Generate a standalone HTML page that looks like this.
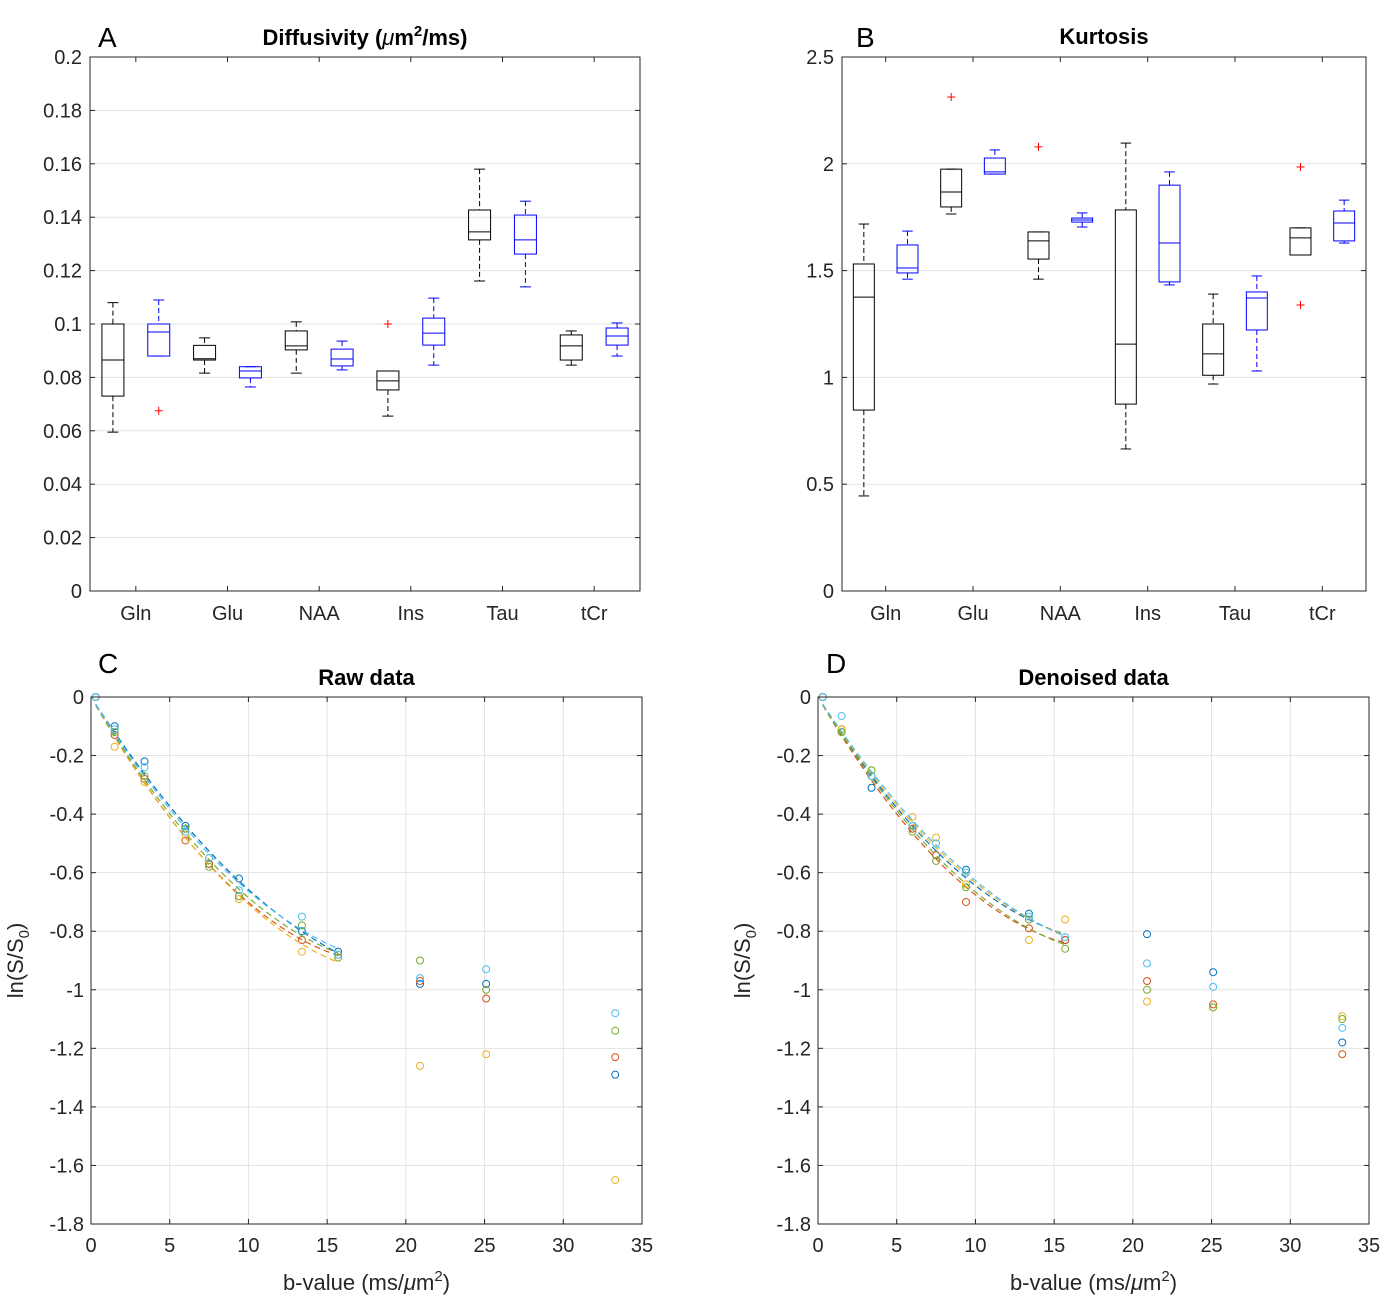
<!DOCTYPE html>
<html><head><meta charset="utf-8"><style>
html,body{margin:0;padding:0;background:#fff}
svg{font-family:"Liberation Sans",Arial,sans-serif;display:block}
</style></head><body>
<svg id="fig" width="1390" height="1295" viewBox="0 0 1390 1295" xmlns="http://www.w3.org/2000/svg"></svg>
<script>
const categories=["Gln","Glu","NAA","Ins","Tau","tCr"];
// boxplot stats: [lowWhisker, q1, median, q3, highWhisker]
const diffBlack=[[0.0595,0.073,0.0865,0.1,0.108],[0.0816,0.0865,0.087,0.092,0.0948],[0.0816,0.0903,0.0918,0.0974,0.1008],[0.0655,0.0753,0.0787,0.0824,0.0824],[0.1161,0.1315,0.1345,0.1427,0.158],[0.0846,0.0865,0.0918,0.0959,0.0974]];
const diffBlue=[[0.088,0.088,0.097,0.1,0.109],[0.0764,0.0798,0.0824,0.084,0.084],[0.0828,0.0843,0.0869,0.0906,0.0936],[0.0846,0.0921,0.0966,0.1022,0.1097],[0.1139,0.1262,0.1315,0.1408,0.146],[0.088,0.0921,0.0955,0.0985,0.1004]];
const diffOutBlack=[[3,0.1]];
const diffOutBlue=[[0,0.0675]];
const kurtBlack=[[0.445,0.847,1.376,1.531,1.718],[1.765,1.798,1.868,1.975,1.975],[1.46,1.554,1.639,1.681,1.681],[0.665,0.875,1.156,1.784,2.097],[0.969,1.01,1.11,1.25,1.39],[1.573,1.573,1.653,1.7,1.7]];
const kurtBlue=[[1.46,1.489,1.512,1.62,1.685],[1.952,1.952,1.962,2.027,2.065],[1.704,1.727,1.737,1.746,1.77],[1.433,1.447,1.629,1.9,1.962],[1.03,1.222,1.372,1.4,1.475],[1.629,1.639,1.723,1.779,1.83]];
const kurtOutBlack=[[1,2.313],[2,2.079],[5,1.985],[5,1.339]];
const kurtOutBlue=[];
const bValues=[0.3,1.5,3.4,6,7.5,9.4,13.4,15.7,20.9,25.1,33.3];
const seriesColors=["#0072BD","#D95319","#EDB120","#77AC30","#4DBEEE"];
const rawBlue=[0,-0.10,-0.22,-0.44,-0.57,-0.62,-0.80,-0.87,-0.98,-0.98,-1.29];
const rawRed=[0,-0.13,-0.28,-0.49,-0.57,-0.68,-0.83,-0.88,-0.97,-1.03,-1.23];
const rawYellow=[0,-0.17,-0.29,-0.47,-0.55,-0.69,-0.87,-0.89,-1.26,-1.22,-1.65];
const rawGreen=[0,-0.12,-0.27,-0.45,-0.58,-0.68,-0.78,-0.89,-0.90,-1.00,-1.14];
const rawCyan=[0,-0.11,-0.24,-0.46,-0.55,-0.66,-0.75,-0.88,-0.96,-0.93,-1.08];
const denBlue=[0,-0.12,-0.31,-0.44,-0.54,-0.59,-0.74,-0.83,-0.81,-0.94,-1.18];
const denRed=[0,-0.11,-0.27,-0.45,-0.54,-0.70,-0.79,-0.83,-0.97,-1.05,-1.22];
const denYellow=[0,-0.11,-0.25,-0.41,-0.48,-0.64,-0.83,-0.76,-1.04,-1.06,-1.09];
const denGreen=[0,-0.12,-0.25,-0.46,-0.56,-0.65,-0.76,-0.86,-1.00,-1.06,-1.10];
const denCyan=[0,-0.065,-0.27,-0.44,-0.50,-0.60,-0.75,-0.82,-0.91,-0.99,-1.13];

const NS="http://www.w3.org/2000/svg";
const svg=document.getElementById('fig');
function mk(tag,attrs,parent){const e=document.createElementNS(NS,tag);for(const k in attrs)e.setAttribute(k,attrs[k]);(parent||svg).appendChild(e);return e;}
function txt(x,y,s,size,anchor,weight,parent){const t=mk('text',{x:x,y:y,'font-size':size,'text-anchor':anchor||'middle','font-weight':weight||'normal',fill:'#262626'},parent);t.textContent=s;return t;}

function axesFrame(g,L,T,R,B,name){
  const r=mk('rect',{x:L,y:T,width:R-L,height:B-T,fill:'none',stroke:'#262626','stroke-width':1},g);
  
  
}

// ---------- Box panels ----------
function boxPanel(o){
  const g=mk('g',{});
  
  
  const {L,T,R,B,ymax}=o;
  const ys=v=>B-(v/ymax)*(B-T);
  const step=(R-L)/6;
  const cx=i=>L+step*(i+0.5);
  // grid + y ticks
  o.ticks.forEach((v,k)=>{
    const y=ys(v);
    if(v>0&&v<ymax){const gl=mk('line',{x1:L,x2:R,y1:y,y2:y,stroke:'#e3e3e3','stroke-width':1},g);}
    mk('line',{x1:L,x2:L+5,y1:y,y2:y,stroke:'#262626'},g);
    mk('line',{x1:R,x2:R-5,y1:y,y2:y,stroke:'#262626'},g);
    const t=txt(L-8,y+7,o.tickLabels[k],20,'end',null,g);
    
    
  });
  categories.forEach((c,i)=>{
    const x=cx(i);
    mk('line',{x1:x,x2:x,y1:B,y2:B-5,stroke:'#262626'},g);
    mk('line',{x1:x,x2:x,y1:T,y2:T+5,stroke:'#262626'},g);
    const t=txt(x,B+29,c,20,'middle',null,g);
    
    
  });
  const off=step*0.25, w=step*0.24;
  function drawBox(stats,x,col,nm){
    const bg=mk('g',{},g);
    
    
    const [lo,q1,md,q3,hi]=stats;
    mk('line',{x1:x,x2:x,y1:ys(hi),y2:ys(q3),stroke:col,'stroke-dasharray':'5,3'},bg);
    mk('line',{x1:x,x2:x,y1:ys(q1),y2:ys(lo),stroke:col,'stroke-dasharray':'5,3'},bg);
    mk('line',{x1:x-w/4,x2:x+w/4,y1:ys(hi),y2:ys(hi),stroke:col},bg);
    mk('line',{x1:x-w/4,x2:x+w/4,y1:ys(lo),y2:ys(lo),stroke:col},bg);
    mk('rect',{x:x-w/2,y:ys(q3),width:w,height:Math.max(ys(q1)-ys(q3),1),fill:'none',stroke:col},bg);
    mk('line',{x1:x-w/2,x2:x+w/2,y1:ys(md),y2:ys(md),stroke:col},bg);
  }
  o.black.forEach((s,i)=>drawBox(s,cx(i)-off,'#000','box-black-'+categories[i].toLowerCase()));
  o.blue.forEach((s,i)=>drawBox(s,cx(i)+off,'#0000ff','box-blue-'+categories[i].toLowerCase()));
  function outl(list,sign){list.forEach(([i,v])=>{const x=cx(i)+sign*off,y=ys(v);const p=mk('path',{d:`M${x-4} ${y}H${x+4}M${x} ${y-4}V${y+4}`,stroke:'#ff0000','stroke-width':1},g);});}
  outl(o.outBlack,-1);outl(o.outBlue,1);
  axesFrame(g,L,T,R,B,o.name);
  return g;
}

const gA=boxPanel({name:'panel-a-diffusivity',L:90,T:57,R:640,B:591,ymax:0.2,
  ticks:[0,0.02,0.04,0.06,0.08,0.1,0.12,0.14,0.16,0.18,0.2],
  tickLabels:["0","0.02","0.04","0.06","0.08","0.1","0.12","0.14","0.16","0.18","0.2"],
  black:diffBlack,blue:diffBlue,outBlack:diffOutBlack,outBlue:diffOutBlue});
const gB=boxPanel({name:'panel-b-kurtosis',L:842,T:57,R:1366,B:591,ymax:2.5,
  ticks:[0,0.5,1,1.5,2,2.5],tickLabels:["0","0.5","1","1.5","2","2.5"],
  black:kurtBlack,blue:kurtBlue,outBlack:kurtOutBlack,outBlue:kurtOutBlue});

// titles
let t;
t=mk('text',{x:365,y:45,'font-size':22,'font-weight':'bold','text-anchor':'middle',fill:'#000'});
t.innerHTML='Diffusivity (<tspan font-style="italic" font-weight="normal">μ</tspan>m<tspan dy="-9" font-size="15">2</tspan><tspan dy="9">/ms)</tspan>';

t=txt(1104,44,'Kurtosis',22,'middle','bold');t.setAttribute('fill','#000');

[['A',98,47],['B',856,47],['C',98,673],['D',826,673]].forEach(([s,x,y])=>{const e=txt(x,y,s,28,'start');e.setAttribute('fill','#000');});

// ---------- Scatter panels ----------
function fitK(b,y,nmax){
  // least squares y = a1*b + a2*b^2 over b<=nmax
  let s11=0,s12=0,s22=0,r1=0,r2=0;
  b.forEach((bv,i)=>{if(bv<=nmax){const x1=bv,x2=bv*bv;s11+=x1*x1;s12+=x1*x2;s22+=x2*x2;r1+=x1*y[i];r2+=x2*y[i];}});
  const det=s11*s22-s12*s12;
  return [(r1*s22-r2*s12)/det,(s11*r2-s12*r1)/det];
}
function scatterPanel(o){
  const g=mk('g',{});
  
  
  const {L,T,R,B}=o;
  const xs=v=>L+v/35*(R-L);
  const ys=v=>T+(-v)/1.8*(B-T);
  const xt=[0,5,10,15,20,25,30,35];
  const yt=[0,-0.2,-0.4,-0.6,-0.8,-1,-1.2,-1.4,-1.6,-1.8];
  xt.forEach(v=>{const x=xs(v);
    if(v>0&&v<35){const l=mk('line',{x1:x,x2:x,y1:T,y2:B,stroke:'#e3e3e3'},g);}
    mk('line',{x1:x,x2:x,y1:B,y2:B-5,stroke:'#262626'},g);mk('line',{x1:x,x2:x,y1:T,y2:T+5,stroke:'#262626'},g);
    const e=txt(x,B+28,String(v),20,'middle',null,g);});
  yt.forEach(v=>{const y=ys(v);
    if(v<0&&v>-1.8){const l=mk('line',{x1:L,x2:R,y1:y,y2:y,stroke:'#e3e3e3'},g);}
    mk('line',{x1:L,x2:L+5,y1:y,y2:y,stroke:'#262626'},g);mk('line',{x1:R,x2:R-5,y1:y,y2:y,stroke:'#262626'},g);
    const e=txt(L-7,y+7,String(v),20,'end',null,g);});
  o.series.forEach((ser,si)=>{
    const col=seriesColors[si];
    const [a1,a2]=fitK(bValues,ser,15.8);
    let d='';
    for(let k=0;k<=40;k++){const b=bValues[0]+(15.7-bValues[0])*k/40;const y=a1*b+a2*b*b;d+=(k?'L':'M')+xs(b).toFixed(1)+' '+ys(y).toFixed(1);}
    const p=mk('path',{d:d,fill:'none',stroke:col,'stroke-width':1.2,'stroke-dasharray':'6,4'},g);
    
    ser.forEach((v,i)=>{const c=mk('circle',{cx:xs(bValues[i]),cy:ys(v),r:3.5,fill:'none',stroke:col,'stroke-width':1},g);
      });
  });
  axesFrame(g,L,T,R,B,o.name);
  const cxm=(L+R)/2;
  let e=mk('text',{x:cxm,y:1290,'font-size':22,'text-anchor':'middle',fill:'#262626'},g);
  e.innerHTML='b-value (ms/<tspan font-style="italic">μ</tspan>m<tspan dy="-9" font-size="15">2</tspan><tspan dy="9">)</tspan>';
  
  e=mk('text',{x:0,y:0,'font-size':22,'text-anchor':'middle',fill:'#262626',transform:`translate(${L-68},${(T+B)/2}) rotate(-90)`},g);
  e.innerHTML='ln(S/S<tspan dy="6" font-size="15">0</tspan><tspan dy="-6">)</tspan>';
  
  e=txt(cxm,685,o.title,22,'middle','bold',g);e.setAttribute('fill','#000');
  
}
scatterPanel({name:'panel-c-raw-data',L:91,T:697,R:642,B:1224,title:'Raw data',series:[rawBlue,rawRed,rawYellow,rawGreen,rawCyan]});
scatterPanel({name:'panel-d-denoised-data',L:818,T:697,R:1369,B:1224,title:'Denoised data',series:[denBlue,denRed,denYellow,denGreen,denCyan]});
</script>
</body></html>
